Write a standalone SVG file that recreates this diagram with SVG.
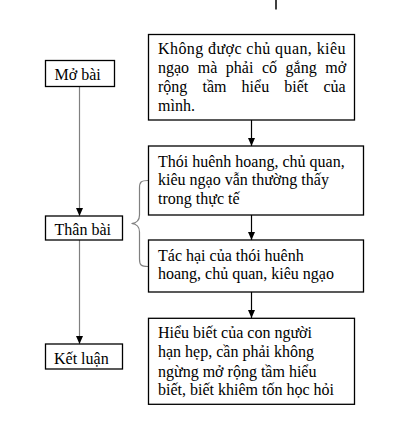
<svg xmlns="http://www.w3.org/2000/svg" width="405" height="428" viewBox="0 0 405 428">
<style>
.box{fill:#fff;stroke:#000;stroke-width:1.3}
.t{font-family:"Liberation Serif","Times New Roman",serif;font-size:16px;fill:#000}
.c{stroke:#000;stroke-width:1.2;fill:none}
.g{stroke:#808080;stroke-width:1.2;fill:none}
</style>
<defs>
<marker id="ah" viewBox="0 0 8 8" refX="8" refY="4" markerWidth="8" markerHeight="8" markerUnits="userSpaceOnUse" orient="auto">
<path d="M0,0.5 L8,4 L0,7.5 Z" fill="#000"/>
</marker>
</defs>
<rect width="405" height="428" fill="#fff"/>
<g id="connectors">
<line x1="276" y1="0" x2="276" y2="9.5" stroke="#000" stroke-width="1.5"/>
<line class="c" x1="251.5" y1="120" x2="251.5" y2="146" marker-end="url(#ah)"/>
<line class="c" x1="251.5" y1="215" x2="251.5" y2="240" marker-end="url(#ah)"/>
<line class="c" x1="251.5" y1="292" x2="251.5" y2="318" marker-end="url(#ah)"/>
<line class="g" x1="79.5" y1="86.5" x2="79.5" y2="216" marker-end="url(#ah)"/>
<line class="g" x1="79.5" y1="240" x2="79.5" y2="344" marker-end="url(#ah)"/>
<path class="g" d="M148,180.5 C141,180.5 139.5,182 139.5,188 L139.5,215 C139.5,220 137,223 131.5,223.5 C137,224 139.5,227 139.5,232 L139.5,259 C139.5,265 141,266.5 148,266.5"/>
</g>
<g id="mo-bai">
<rect class="box" x="45.5" y="60.5" width="69" height="26"/>
<text class="t" x="54.5" y="80">Mở bài</text>
</g>
<g id="than-bai">
<rect class="box" x="45.5" y="216" width="77" height="24"/>
<text class="t" x="54.5" y="234.5">Thân bài</text>
</g>
<g id="ket-luan">
<rect class="box" x="45.5" y="344" width="77" height="25"/>
<text class="t" x="54" y="363.5">Kết luận</text>
</g>
<g id="box1">
<rect class="box" x="148.5" y="34.5" width="206" height="85.5"/>
<text class="t" x="158" y="54" textLength="187.5" lengthAdjust="spacing">Không được chủ quan, kiêu</text>
<text class="t" y="73.3"><tspan x="158">ngạo</tspan><tspan x="197.7">mà</tspan><tspan x="225.8">phải</tspan><tspan x="261.9">cố</tspan><tspan x="285.6">gắng</tspan><tspan x="325.3">mở</tspan></text>
<text class="t" y="92.3"><tspan x="158">rộng</tspan><tspan x="202.5">tầm</tspan><tspan x="241.6">hiểu</tspan><tspan x="284.3">biết</tspan><tspan x="323.4">của</tspan></text>
<text class="t" x="158" y="111">mình.</text>
</g>
<g id="box2">
<rect class="box" x="148.5" y="146" width="215" height="69"/>
<text class="t" x="158" y="166.5">Thói huênh hoang, chủ quan,</text>
<text class="t" x="158" y="185">kiêu ngạo vẫn thường thấy</text>
<text class="t" x="158" y="203.5">trong thực tế</text>
</g>
<g id="box3">
<rect class="box" x="148.5" y="240" width="215" height="52"/>
<text class="t" x="158" y="260.5">Tác hại của thói huênh</text>
<text class="t" x="158" y="279.3">hoang, chủ quan, kiêu ngạo</text>
</g>
<g id="box4">
<rect class="box" x="148.5" y="318.3" width="206" height="86"/>
<text class="t" x="158" y="338.3">Hiểu biết của con người</text>
<text class="t" x="158" y="357.3">hạn hẹp, cần phải không</text>
<text class="t" x="158" y="376.5">ngừng mở rộng tầm hiểu</text>
<text class="t" x="158" y="395">biết, biết khiêm tốn học hỏi</text>
</g>
</svg>
